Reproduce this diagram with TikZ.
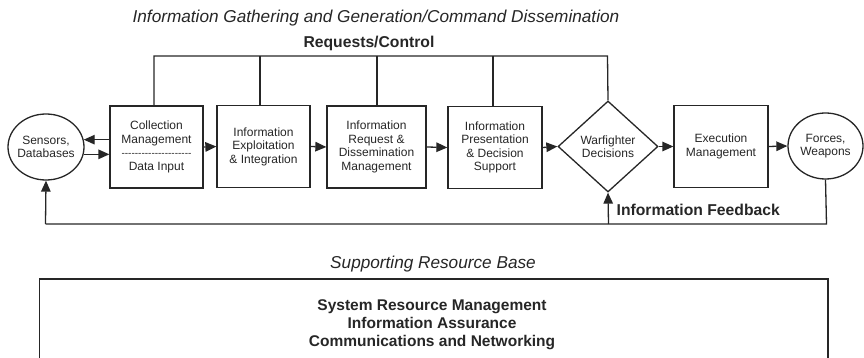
\documentclass[tikz,border=0pt]{standalone}
\usepackage{fontspec}
\setmainfont{Liberation Sans}
\usetikzlibrary{shapes.geometric,arrows.meta,calc}
\definecolor{ink}{gray}{0.15}
\newcommand\dashrow{\foreach \i in {1,...,21}{-\kern0pt}}
\begin{document}
\begin{tikzpicture}[x=1pt,y=-1pt,line width=1.3pt,draw=ink,text=ink,
  box/.style={draw=ink,line width=1.3pt,rectangle,minimum width=#1,minimum height=82pt,inner sep=0pt,align=center,font=\fontsize{12}{13.5}\selectfont},
  oval/.style={draw=ink,line width=1.3pt,ellipse,minimum width=#1,minimum height=66pt,inner xsep=-4pt,inner ysep=0pt,align=center,font=\fontsize{12}{13.5}\selectfont},
  dec/.style={draw=ink,line width=1.3pt,diamond,minimum width=100pt,minimum height=91pt,inner sep=0pt,align=center,font=\fontsize{12}{13.5}\selectfont},
  arr/.style={draw=ink,line width=1.3pt,-{Triangle[length=11pt,width=9.5pt]}},
  ln/.style={draw=ink,line width=1.3pt},
  boldlab/.style={font=\fontsize{15.7}{18}\selectfont\bfseries,inner sep=0pt},
  itlab/.style={font=\fontsize{17.2}{20}\selectfont\itshape,inner sep=0pt},
  reslab/.style={font=\fontsize{15.5}{18}\selectfont\bfseries,inner sep=0pt}
]
\useasboundingbox (0,0) rectangle (864,358);

% main row
\node[oval=76pt] (sens) at (46,147) {Sensors,\\Databases};
\node[box=93pt] (coll) at (156.5,147) {Collection\\Management\\{\fontsize{10}{13.5}\selectfont\dashrow}\\Data Input};
\node[box=93pt] (expl) at (263.5,146.5) {Information\\Exploitation\\\& Integration};
\node[box=99pt] (req) at (376.5,147) {Information\\Request \&\\Dissemination\\Management};
\node[box=94pt] (pres) at (495,147.5) {Information\\Presentation\\\& Decision\\Support};
\node[dec] (wf) at (608,146.5) {Warfighter\\Decisions};
\node[box=94pt] (exec) at (721,146.5) {Execution\\Management};
\node[oval=75pt] (forc) at (825.5,146) {Forces,\\Weapons};

% arrows along row
\draw[arr] (coll.west |- sens.11) -- (sens.11);
\draw[arr] (sens.-11) -- (coll.west |- sens.-11);
\draw[arr] (coll.east) -- (expl.west);
\draw[arr] (expl.east) -- (req.west);
\draw[arr] (req.east) -- (pres.west);
\draw[arr] (pres.east) -- (wf.west);
\draw[arr] (wf.east) -- (exec.west);
\draw[arr] (exec.east) -- (forc.west);

% requests/control bus
\coordinate (t1) at (154,56);
\coordinate (t2) at (260,56);
\coordinate (t3) at (377,56);
\coordinate (t4) at (493,56);
\coordinate (t5) at (607.5,56);
\draw[ln] (t1 |- coll.north) -- (t1) -- (t5) -- (wf.north);
\draw[ln] (t2) -- (t2 |- expl.north);
\draw[ln] (t3) -- (t3 |- req.north);
\draw[ln] (t4) -- (t4 |- pres.north);
\node[boldlab,anchor=base] (rc) at (369,48) {Requests/Control};

% feedback loop
\coordinate (f1) at (826.5,224);
\coordinate (f2) at (45.5,224);
\coordinate (f3) at (608.5,224);
\draw[ln] (forc.south) -- (f1) -- (f2);
\draw[arr] (f2) -- (sens.south);
\draw[arr] (f3) -- (wf.south);
\node[boldlab,anchor=base west] (fb) at (616,215) {Information Feedback};

% titles
\node[itlab,anchor=base west] (title) at (132,23) {Information Gathering and Generation/Command Dissemination};
\node[itlab,anchor=base] (srb) at (433,268) {Supporting Resource Base};

% supporting resource box
\coordinate (b1) at (39.5,362);
\coordinate (b2) at (39.5,279);
\coordinate (b3) at (828,279);
\coordinate (b4) at (828,362);
\draw[ln] (b1) -- (b2) -- (b3) -- (b4);
\node[reslab,anchor=base] (r1) at (432,310) {System Resource Management};
\node[reslab,anchor=base] (r2) at (432,328) {Information Assurance};
\node[reslab,anchor=base] (r3) at (432,346) {Communications and Networking};
\end{tikzpicture}
\end{document}
